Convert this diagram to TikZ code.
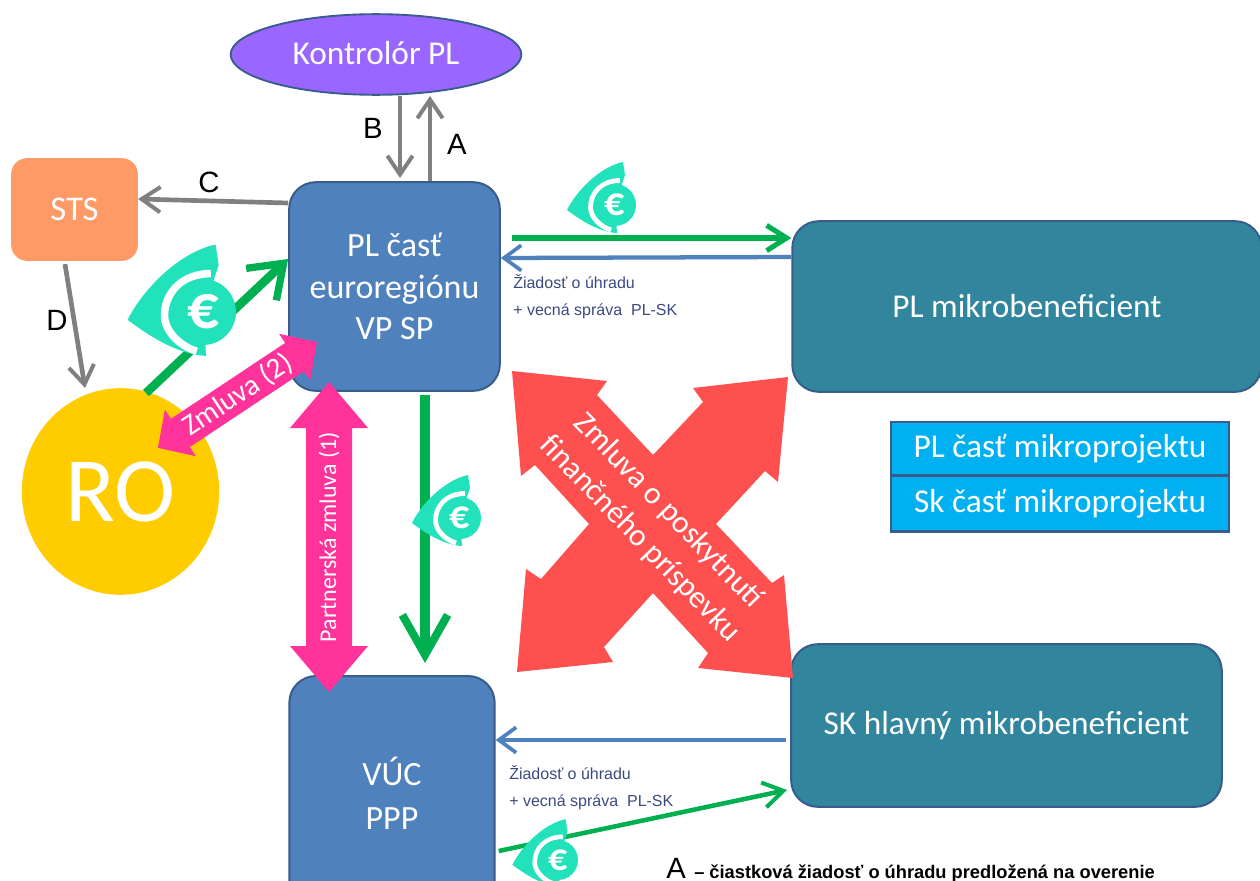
\documentclass[tikz,border=0pt]{standalone}
\usepackage{fontspec}
\setmainfont{Carlito}
\newfontfamily\arialf{Liberation Sans}
\usetikzlibrary{arrows.meta,shapes.geometric,calc}
\definecolor{boxblue}{HTML}{4F81BD}
\definecolor{boxblueB}{HTML}{385D8A}
\definecolor{boxteal}{HTML}{31859C}
\definecolor{stsor}{HTML}{FF9966}
\definecolor{rogold}{HTML}{FFCC00}
\definecolor{kpurple}{HTML}{9966FF}
\definecolor{aqua}{HTML}{22E2BC}
\definecolor{mygreen}{HTML}{00B050}
\definecolor{mypink}{HTML}{FF3399}
\definecolor{myred}{HTML}{FF5050}
\definecolor{lightb}{HTML}{00B0F0}
\definecolor{mygray}{HTML}{808080}
\definecolor{smallc}{HTML}{3A4A80}
\newcommand{\fpx}[2]{\fontsize{#1}{#2}\selectfont}
\newcommand{\euroicon}[4]{%
 \begin{scope}[shift={(#2,#3)},scale=#4,transform shape]
  \fill[aqua] (-48,5) .. controls (-38,-15) and (-15,-38) .. (8,-43) -- (10,-30) -- (0,0) -- (2,28) .. controls (-15,27) and (-32,17) .. cycle;
  \pgfmathsetlengthmacro{\ringw}{3.6pt*#4}
  \draw[white,line width=\ringw] (5,-24.5) .. controls (-13,-24.5) and (-25,-12) .. (-24.5,3) .. controls (-24,13) and (-14,22) .. (-4,25);
  \fill[aqua] (0,0) circle (21);
  \node[text=white,font=\bfseries\fpx{30}{34},inner sep=0pt] (#1) at (0,0) {€};
 \end{scope}}
% name, cx, cy, angle, half length, head length, half head width, half shaft, font and text
\newcommand{\blockarr}[9]{%
 \begin{scope}[shift={(#2,#3)},rotate=#4]
  \fill[mypink] (-#5,0) -- ({-#5+#6},-#7) -- ({-#5+#6},-#8) -- ({#5-#6},-#8) -- ({#5-#6},-#7) -- (#5,0) -- ({#5-#6},#7) -- ({#5-#6},#8) -- ({-#5+#6},#8) -- ({-#5+#6},#7) -- cycle;
  \node[transform shape,text=white,inner sep=0pt] (#1) at (0,0) {#9};
 \end{scope}}
\tikzset{
 x=0.75pt,y=-0.75pt,
 bigbox/.style={draw=boxblueB,line width=1.5pt,fill=boxblue,rounded corners=20pt,text=white,align=center,inner sep=0pt,font=\fpx{25.5}{31}},
 mbbox/.style={draw=boxblueB,line width=1.5pt,fill=boxteal,rounded corners=20pt,text=white,align=center,inner sep=0pt,font=\fpx{25}{28}},
 lightbox/.style={draw=boxblueB,line width=1.8pt,fill=lightb,text=white,inner sep=0pt,font=\fpx{25}{28}},
 grayarrow/.style={draw=mygray,line width=3.5pt,-{Straight Barb[length=14pt,width=19pt,line width=3pt]}},
 bluearrow/.style={draw=boxblue,line width=3.2pt,-{Straight Barb[length=13pt,width=19pt,line width=2.8pt]}},
 lettertext/.style={inner sep=0pt,font=\arialf\fpx{22}{25}},
 smalltext/.style={inner sep=0pt,align=left,text=smallc,font=\arialf\fpx{12}{20}},
}
\begin{document}
\begin{tikzpicture}
\useasboundingbox (0,0) rectangle (1260,881);
\clip (0,0) rectangle (1260,881);
% main boxes
\node[bigbox,minimum width=158pt,minimum height=156.5pt] (pl) at (394.5,286.5) {PL časť\\euroregiónu\\VP SP};
\node[bigbox,minimum width=154pt,minimum height=195pt] (vuc) at (392,806) {};
\node[inner sep=0pt,text=white,align=center,font=\fpx{25.5}{33}] (vuct) at (392,793) {VÚC\\PPP};
\node[mbbox,minimum width=352pt,minimum height=128pt] (plm) at (1027,306.5) {PL mikrobeneficient};
\node[mbbox,minimum width=323pt,minimum height=122pt] (skm) at (1006.5,725.5) {SK hlavný mikrobeneficient};
\node[fill=stsor,rounded corners=12pt,minimum width=95pt,minimum height=77pt,text=white,inner sep=0pt,font=\fpx{26}{30}] (sts) at (74.5,209.5) {STS};
\node[ellipse,fill=rogold,minimum width=148pt,minimum height=155pt,inner sep=0pt,text=white,font=\fpx{69}{76}] (ro) at (120.5,491.5) {\raisebox{-2pt}{RO}};
\node[ellipse,draw=boxblueB,line width=1.4pt,fill=kpurple,minimum width=218pt,minimum height=60.5pt,inner sep=0pt,text=white,font=\fpx{25}{28}] (kon) at (376,54.5) {\raisebox{3pt}{Kontrolór PL}};
\node[lightbox,minimum width=253.5pt,minimum height=40pt] (lb1) at (1060,448.5) {PL časť mikroprojektu};
\node[lightbox,minimum width=253.5pt,minimum height=42pt] (lb2) at (1060,503.5) {Sk časť mikroprojektu};
% gray connectors
\draw[grayarrow] (400,0 |- kon.south) -- (400,178);
\draw[grayarrow] (430,0 |- pl.north) -- (430,96);
\draw[grayarrow] (pl.west |- 0,203) -- (sts.east |- 0,199);
\draw[grayarrow] (65,0 |- sts.south) ++(0,3) -- (85,0 |- ro.north);
% green connectors
\draw[draw=mygreen,line width=6.5pt,-{Straight Barb[length=23pt,width=33pt,line width=5.5pt]}] (146,393) -- (pl.west |- 0,259);
\draw[draw=mygreen,line width=4.4pt,-{Straight Barb[length=15pt,width=19pt,line width=3.8pt]}] (512,0 |- 0,238) -- (plm.west |- 0,238);
\draw[draw=mygreen,line width=7pt,-{Straight Barb[length=30pt,width=34pt,line width=6pt]}] (425,0 |- pl.south) ++(0,3) -- (425,663);
\draw[draw=mygreen,line width=3.4pt,-{Straight Barb[length=15pt,width=19pt,line width=3pt]}] (vuc.east |- 0,851) ++(3,0) -- (787,790);
% blue connectors
\draw[bluearrow] (plm.west |- 0,257) -- (pl.east |- 0,258);
\draw[bluearrow] (skm.west |- 0,740) ++(-4,0) -- (vuc.east |- 0,740);
% icons
\euroicon{eu1}{615}{205}{1}
\euroicon{eu2}{203}{312}{1.57}
\euroicon{eu3}{460}{518}{1}
\euroicon{eu4}{558}{860}{0.95}
% pink block arrows
\blockarr{pa}{329}{537}{90}{155}{46}{39}{23}{\fpx{18}{20}Partnerská zmluva (1)}
\blockarr{zm}{237.5}{395}{33.6}{95.5}{27}{28}{17}{\fpx{22}{26}Zmluva (2)}
% red cross
\fill[myred] (512,371) -- (607,381) -- (597,395) -- (653,455) -- (703,402) -- (693,388) -- (788,377) -- (778,482) -- (765,471) -- (716,524) -- (772,583) -- (784,575) -- (793,678) -- (698,668) -- (708,653) -- (653,593) -- (604,647) -- (613,662) -- (517,672) -- (526,569) -- (541,579) -- (589,524) -- (535,465) -- (521,476) -- cycle;
\node[rotate=-46,inner sep=0pt,text=white,align=center,font=\fpx{23.5}{30}] (xt) at (654,525) {Zmluva o poskytnutí\\finančného príspevku};
% letters
\node[lettertext] (lb) at (373,128) {B};
\node[lettertext] (la) at (457,144) {A};
\node[lettertext] (lc) at (209,182) {C};
\node[lettertext] (ld) at (57,320) {D};
% small texts
\node[smalltext,anchor=base west] (s1) at (513,315) {Žiadosť o úhradu\\+ vecná správa\ \ PL-SK};
\node[smalltext,anchor=base west] (s2) at (509,806) {Žiadosť o úhradu\\+ vecná správa\ \ PL-SK};
\node[inner sep=0pt,anchor=base west,font=\arialf\fpx{22}{25}] (lega) at (666,878) {A};
\node[inner sep=0pt,anchor=base west,font=\arialf\bfseries\fpx{13.7}{16}] (legb) at (694,878) {– čiastková žiadosť o úhradu predložená na overenie};
\end{tikzpicture}
\end{document}
